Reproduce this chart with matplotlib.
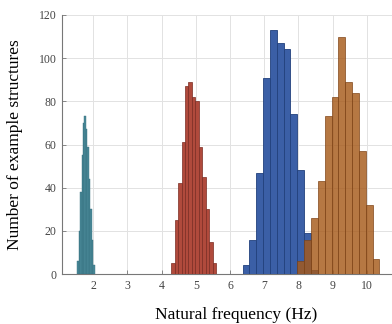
import matplotlib
matplotlib.use("Agg")
import matplotlib.pyplot as plt
import numpy as np

# bin counts (one list per mode)
teal_start, teal_width = 1.53, 0.0425
teal_counts = [6, 20, 38, 55, 70, 73, 67, 59, 44, 30, 16, 4]

red_start, red_width = 4.28, 0.1008
red_counts = [5, 25, 42, 61, 87, 89, 82, 80, 59, 45, 30, 15, 5]

blue_start, blue_width = 6.37, 0.2
blue_counts = [4, 16, 47, 91, 113, 107, 104, 74, 48, 19, 2]

orange_start, orange_width = 7.97, 0.2
orange_counts = [6, 16, 26, 43, 73, 82, 110, 89, 84, 57, 32, 7]

xticks = [2, 3, 4, 5, 6, 7, 8, 9, 10]
yticks = [0, 20, 40, 60, 80, 100, 120]


def draw_hist(ax, start, width, counts, face, edge, lw=0.6, alpha=1.0):
    """Draw one histogram from its first edge, bin width and counts."""
    left = start + width * np.arange(len(counts))
    ax.bar(left, counts, width=width, align="edge", color=face,
           edgecolor=edge, linewidth=lw, alpha=alpha, zorder=3)


def main():
    plt.rcParams["font.family"] = ["Liberation Serif", "DejaVu Serif"]
    fig = plt.figure(figsize=(3.92, 3.24), dpi=100)
    # axes runs past the right edge of the figure, as in the reference
    ax = fig.add_axes([0.158, 0.154, 0.89, 0.80])

    draw_hist(ax, teal_start, teal_width, teal_counts, "#4a8898", "#35707f", lw=0.3)
    draw_hist(ax, red_start, red_width, red_counts, "#b04a3c", "#7a2c22", lw=0.5)
    draw_hist(ax, blue_start, blue_width, blue_counts, "#3b5fa6", "#22417c")
    draw_hist(ax, orange_start, orange_width, orange_counts, "#a65a1a", "#7e4418", alpha=0.82)

    ax.set_xlim(1.085, 11.29)
    ax.set_ylim(0, 120)
    ax.set_xticks(xticks)
    ax.set_yticks(yticks)
    ax.grid(True, color="#e2e2e2", linewidth=0.7, zorder=0)
    ax.set_axisbelow(True)

    for side in ["top", "right"]:
        ax.spines[side].set_visible(False)
    for side in ["left", "bottom"]:
        ax.spines[side].set_color("#777777")
        ax.spines[side].set_linewidth(0.8)

    ax.tick_params(direction="in", length=3, width=0.6, colors="#777777",
                   labelcolor="#444444", labelsize=8.5, pad=4)

    ax.set_xlabel("Natural frequency (Hz)", fontsize=12.5, labelpad=11)
    ax.set_ylabel("Number of example structures", fontsize=12.5, labelpad=11)

    fig.savefig("out.png", dpi=100)


main()
